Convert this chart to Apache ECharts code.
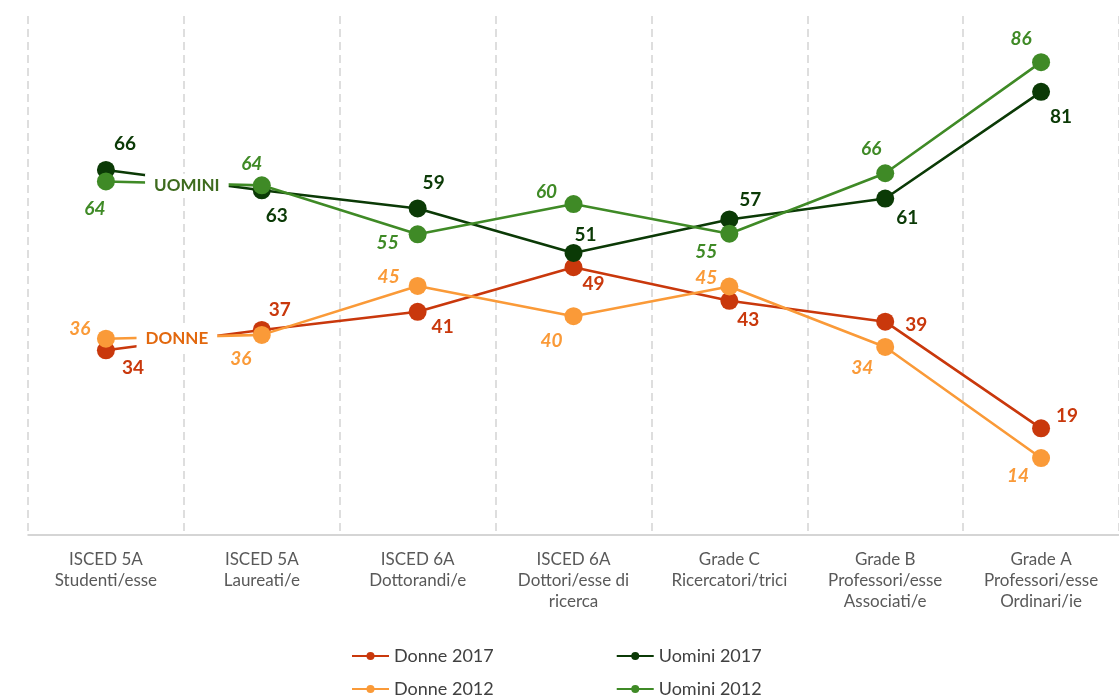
<!DOCTYPE html>
<html><head><meta charset="utf-8">
<script src="https://cdn.jsdelivr.net/npm/echarts@6/dist/echarts.min.js"></script>
<style>html,body{margin:0;padding:0;background:#fff}#c{width:1119px;height:699px}</style>
</head><body><div id="c"></div>
<script>
// ---- data ----
const categories = [
  'ISCED 5A\nStudenti/esse',
  'ISCED 5A\nLaureati/e',
  'ISCED 6A\nDottorandi/e',
  'ISCED 6A\nDottori/esse di\nricerca',
  'Grade C\nRicercatori/trici',
  'Grade B\nProfessori/esse\nAssociati/e',
  'Grade A\nProfessori/esse\nOrdinari/ie'
];
const seriesNames = ['Donne 2017', 'Uomini 2017', 'Donne 2012', 'Uomini 2012'];
const donne2017  = [33.6, 37.3, 40.6, 48.7, 42.6, 38.8, 19.4];
const uomini2017 = [66.4, 62.7, 59.4, 51.3, 57.4, 61.2, 80.6];
const donne2012  = [35.7, 36.4, 45.3, 39.8, 45.2, 34.2, 14.0];
const uomini2012 = [64.3, 63.6, 54.7, 60.2, 54.8, 65.8, 86.0];
const inlineLabels = ['UOMINI', 'DONNE'];
const inlineLabelValues = [63.6, 35.7];

// ---- styling (label placement relative to each point) ----
const colors = ['#C9380C', '#0B3A06', '#FA9A38', '#3F8A26'];
const italic = [false, false, true, true];
const labelOffsets = [
  [[27,18],[18,-20],[25,15],[20,17],[19,19],[31,3],[26,-12]],
  [[19,-26],[15,26],[16,-26],[12,-18],[21,-20],[22,19],[20,25]],
  [[-26,-10],[-21,24],[-29,-9],[-22,25],[-23,-9],[-23,21],[-23,18]],
  [[-11,27],[-10,-21],[-30,9],[-27,-12],[-23,18],[-14,-24],[-20,-23]]
];
const values = [donne2017, uomini2017, donne2012, uomini2012];
const FONT = 'Lato, "Noto Sans", sans-serif';

const chart = echarts.init(document.getElementById('c'));
const series = values.map((vals, i) => ({
  name: seriesNames[i],
  type: 'line',
  data: vals.map((v, j) => ({ value: v, label: { offset: labelOffsets[i][j] } })),
  symbol: 'circle',
  symbolSize: 18,
  lineStyle: { width: 2.6, color: colors[i] },
  itemStyle: { color: colors[i] },
  z: 2 + i,
  label: {
    show: true,
    position: 'inside',
    color: colors[i],
    fontFamily: FONT,
    fontWeight: 'bold',
    fontStyle: italic[i] ? 'italic' : 'normal',
    fontSize: 19,
    formatter: p => Math.round(p.value)
  },
  emphasis: { disabled: true },
  animation: false
}));

chart.setOption({
  animation: false,
  grid: { left: 28, width: 1094, top: 16, bottom: 164 },
  xAxis: {
    type: 'category',
    data: categories,
    boundaryGap: true,
    axisLine: { lineStyle: { color: '#C8C8C8', width: 1.5 } },
    axisTick: { show: false },
    splitLine: { show: true, lineStyle: { color: '#D4D4D4', width: 1.5, type: [8, 5] } },
    axisLabel: { color: '#595959', fontFamily: FONT, fontSize: 17, lineHeight: 21, margin: 14, interval: 0 }
  },
  yAxis: {
    type: 'value', min: 0, max: 94.4,
    show: false, splitLine: { show: false }
  },
  legend: [
    { data: seriesNames.slice(0, 2), top: 642, left: 346, itemWidth: 37, itemHeight: 10, itemGap: 122,
      textStyle: { color: '#404040', fontFamily: FONT, fontSize: 18 } },
    { data: seriesNames.slice(2, 4), top: 675, left: 346, itemWidth: 37, itemHeight: 10, itemGap: 122,
      textStyle: { color: '#404040', fontFamily: FONT, fontSize: 18 } }
  ],
  series: series
});

// inline labels "UOMINI" / "DONNE" placed between the first two categories
const inlineColors = ['#3E6B1E', '#E2680E'];
const dx = [3, -7];
const graphics = inlineLabels.map((t, k) => {
  const p0 = chart.convertToPixel({ gridIndex: 0 }, [0, inlineLabelValues[k]]);
  const p1 = chart.convertToPixel({ gridIndex: 0 }, [1, inlineLabelValues[k]]);
  return {
    type: 'text',
    x: (p0[0] + p1[0]) / 2 + dx[k],
    y: p0[1],
    z: 100,
    style: {
      text: t,
      fill: inlineColors[k],
      font: 'bold 17px ' + FONT,
      align: 'center',
      verticalAlign: 'middle',
      backgroundColor: '#fff',
      padding: [3, 9, 3, 9]
    }
  };
});
chart.setOption({ graphic: graphics });
</script>
</body></html>
